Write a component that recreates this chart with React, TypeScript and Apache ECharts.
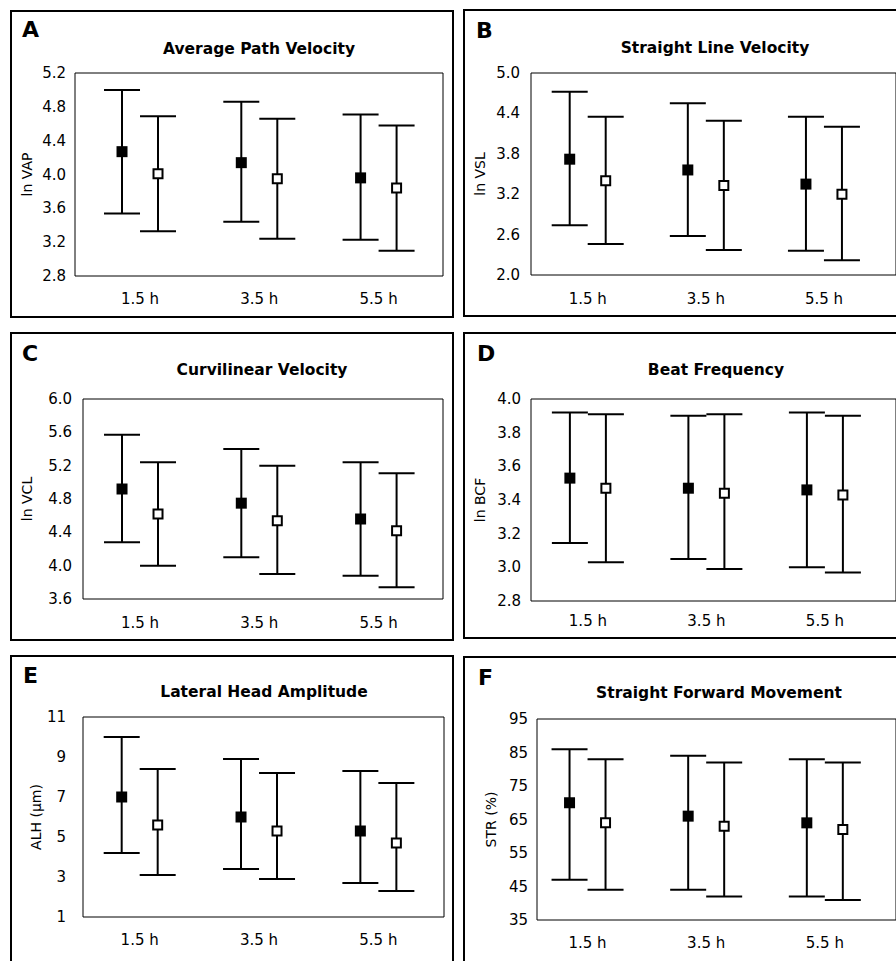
import React, { useEffect, useRef } from "react";
import * as echarts from "echarts";

const FONT = "DejaVu Sans";

const categories = ["1.5 h", "3.5 h", "5.5 h"];

// Panel A – Average Path Velocity (ln VAP)
const vapTicks = [2.8, 3.2, 3.6, 4.0, 4.4, 4.8, 5.2];
const vapFilledMean = [4.27, 4.14, 3.96];
const vapFilledLow = [3.54, 3.44, 3.23];
const vapFilledHigh = [5.0, 4.86, 4.71];
const vapOpenMean = [4.01, 3.95, 3.84];
const vapOpenLow = [3.33, 3.24, 3.1];
const vapOpenHigh = [4.69, 4.66, 4.58];

// Panel B – Straight Line Velocity (ln VSL)
const vslTicks = [2.0, 2.6, 3.2, 3.8, 4.4, 5.0];
const vslFilledMean = [3.72, 3.56, 3.35];
const vslFilledLow = [2.74, 2.58, 2.36];
const vslFilledHigh = [4.72, 4.55, 4.35];
const vslOpenMean = [3.4, 3.33, 3.2];
const vslOpenLow = [2.46, 2.37, 2.22];
const vslOpenHigh = [4.35, 4.29, 4.2];

// Panel C – Curvilinear Velocity (ln VCL)
const vclTicks = [3.6, 4.0, 4.4, 4.8, 5.2, 5.6, 6.0];
const vclFilledMean = [4.92, 4.75, 4.56];
const vclFilledLow = [4.28, 4.1, 3.88];
const vclFilledHigh = [5.57, 5.4, 5.24];
const vclOpenMean = [4.62, 4.54, 4.42];
const vclOpenLow = [4.0, 3.9, 3.74];
const vclOpenHigh = [5.24, 5.2, 5.11];

// Panel D – Beat Frequency (ln BCF)
const bcfTicks = [2.8, 3.0, 3.2, 3.4, 3.6, 3.8, 4.0];
const bcfFilledMean = [3.53, 3.47, 3.46];
const bcfFilledLow = [3.145, 3.05, 3.0];
const bcfFilledHigh = [3.92, 3.9, 3.92];
const bcfOpenMean = [3.47, 3.44, 3.43];
const bcfOpenLow = [3.03, 2.99, 2.97];
const bcfOpenHigh = [3.91, 3.91, 3.9];

// Panel E – Lateral Head Amplitude (ALH, µm)
const alhTicks = [1, 3, 5, 7, 9, 11];
const alhFilledMean = [7.0, 6.0, 5.3];
const alhFilledLow = [4.2, 3.4, 2.7];
const alhFilledHigh = [10.0, 8.9, 8.3];
const alhOpenMean = [5.6, 5.3, 4.7];
const alhOpenLow = [3.1, 2.9, 2.3];
const alhOpenHigh = [8.4, 8.2, 7.7];

// Panel F – Straight Forward Movement (STR, %)
const strTicks = [35, 45, 55, 65, 75, 85, 95];
const strFilledMean = [70, 66, 64];
const strFilledLow = [47, 44, 42];
const strFilledHigh = [86, 84, 83];
const strOpenMean = [64, 63, 62];
const strOpenLow = [44, 42, 41];
const strOpenHigh = [83, 82, 82];

type Panel = {
  letter: string;
  title: string;
  yName: string;
  ticks: number[];
  decimals: number;
  filled: [number[], number[], number[]];
  open: [number[], number[], number[]];
  // layout
  frame: [number, number, number, number];
  grid: [number, number, number, number];
  xMin: number;
  xMax: number;
  labelMargin: number;
  xMargin: number;
  nameGap: number;
  letterPos: [number, number];
  titlePos: [number, number];
};

const panels: Panel[] = [
  {
    letter: "A", title: "Average Path Velocity", yName: "ln VAP", ticks: vapTicks, decimals: 1,
    filled: [vapFilledMean, vapFilledLow, vapFilledHigh], open: [vapOpenMean, vapOpenLow, vapOpenHigh],
    frame: [11, 11, 442, 306], grid: [75, 73, 368, 203], xMin: -0.545, xMax: 2.54,
    labelMargin: 9, xMargin: 15, nameGap: 41, letterPos: [22, 29], titlePos: [259, 49],
  },
  {
    letter: "B", title: "Straight Line Velocity", yName: "ln VSL", ticks: vslTicks, decimals: 1,
    filled: [vslFilledMean, vslFilledLow, vslFilledHigh], open: [vslOpenMean, vslOpenLow, vslOpenHigh],
    frame: [464, 10, 500, 306], grid: [531, 73, 368, 202], xMin: -0.48, xMax: 2.61,
    labelMargin: 11, xMargin: 16, nameGap: 44, letterPos: [476, 30], titlePos: [715, 48],
  },
  {
    letter: "C", title: "Curvilinear Velocity", yName: "ln VCL", ticks: vclTicks, decimals: 1,
    filled: [vclFilledMean, vclFilledLow, vclFilledHigh], open: [vclOpenMean, vclOpenLow, vclOpenHigh],
    frame: [11, 333, 442, 307], grid: [83, 399, 360, 200], xMin: -0.478, xMax: 2.54,
    labelMargin: 11, xMargin: 16, nameGap: 49, letterPos: [22, 353], titlePos: [262, 370],
  },
  {
    letter: "D", title: "Beat Frequency", yName: "ln BCF", ticks: bcfTicks, decimals: 1,
    filled: [bcfFilledMean, bcfFilledLow, bcfFilledHigh], open: [bcfOpenMean, bcfOpenLow, bcfOpenHigh],
    frame: [464, 333, 500, 305], grid: [531, 399, 368, 202], xMin: -0.48, xMax: 2.6,
    labelMargin: 10, xMargin: 12, nameGap: 44, letterPos: [477, 353], titlePos: [716, 370],
  },
  {
    letter: "E", title: "Lateral Head Amplitude", yName: "ALH (\u00b5m)", ticks: alhTicks, decimals: 0,
    filled: [alhFilledMean, alhFilledLow, alhFilledHigh], open: [alhOpenMean, alhOpenLow, alhOpenHigh],
    frame: [11, 656, 442, 400], grid: [83, 717, 361, 200], xMin: -0.475, xMax: 2.55,
    labelMargin: 17, xMargin: 15, nameGap: 38, letterPos: [23, 675], titlePos: [264, 692],
  },
  {
    letter: "F", title: "Straight Forward Movement", yName: "STR (%)", ticks: strTicks, decimals: 0,
    filled: [strFilledMean, strFilledLow, strFilledHigh], open: [strOpenMean, strOpenLow, strOpenHigh],
    frame: [464, 657, 500, 400], grid: [537, 719, 362, 201], xMin: -0.426, xMax: 2.6,
    labelMargin: 9, xMargin: 15, nameGap: 39, letterPos: [478, 677], titlePos: [719, 693],
  },
];

const CAP = 18;
const OFFSET = 18;

function makeSeries(k: number, arrs: [number[], number[], number[]], filled: boolean) {
  const [mean, low, high] = arrs;
  return {
    type: "custom",
    xAxisIndex: k,
    yAxisIndex: k,
    clip: false,
    data: categories.map((_, i) => [i, mean[i], low[i], high[i]]),
    renderItem: (params: any, api: any) => {
      const i = api.value(0);
      const m = api.coord([i, api.value(1)]);
      const lo = api.coord([i, api.value(2)]);
      const hi = api.coord([i, api.value(3)]);
      const cx = m[0] + (filled ? -OFFSET : OFFSET);
      const lineStyle = { stroke: "#000", lineWidth: 2 };
      const sq = filled
        ? { type: "rect", shape: { x: cx - 5.5, y: m[1] - 5.5, width: 11, height: 11 }, style: { fill: "#000" } }
        : { type: "rect", shape: { x: cx - 4.5, y: m[1] - 4.5, width: 9, height: 9 }, style: { fill: "#fff", stroke: "#000", lineWidth: 2 } };
      return {
        type: "group",
        children: [
          { type: "line", shape: { x1: cx, y1: hi[1], x2: cx, y2: lo[1] }, style: lineStyle },
          { type: "line", shape: { x1: cx - CAP, y1: hi[1], x2: cx + CAP, y2: hi[1] }, style: lineStyle },
          { type: "line", shape: { x1: cx - CAP, y1: lo[1], x2: cx + CAP, y2: lo[1] }, style: lineStyle },
          sq,
        ],
      };
    },
  };
}

export default function App() {
  const ref = useRef<HTMLDivElement>(null);
  useEffect(() => {
    if (!ref.current) return;
    const chart = echarts.init(ref.current, undefined, { renderer: "svg" });
    const option: any = {
      animation: false,
      backgroundColor: "#fff",
      textStyle: { fontFamily: FONT, color: "#000" },
      grid: panels.map((p) => ({
        left: p.grid[0], top: p.grid[1], width: p.grid[2], height: p.grid[3],
        show: true, borderColor: "#000", borderWidth: 1, backgroundColor: "transparent",
        containLabel: false,
      })),
      xAxis: panels.map((p, k) => ({
        type: "value", gridIndex: k, min: p.xMin, max: p.xMax,
        axisLine: { show: false }, axisTick: { show: false }, splitLine: { show: false },
        axisLabel: {
          customValues: categories.map((_, i) => i),
          formatter: (v: number) => categories[Math.round(v)] ?? "",
          color: "#000", fontSize: 15, fontFamily: FONT, margin: p.xMargin,
        },
      })),
      yAxis: panels.map((p, k) => ({
        type: "value", gridIndex: k, min: p.ticks[0], max: p.ticks[p.ticks.length - 1],
        name: p.yName, nameLocation: "middle", nameRotate: 90, nameGap: p.nameGap,
        nameTextStyle: { color: "#000", fontSize: 14, fontFamily: FONT },
        axisLine: { show: false }, axisTick: { show: false }, splitLine: { show: false },
        axisLabel: {
          customValues: p.ticks,
          formatter: (v: number) => v.toFixed(p.decimals),
          color: "#000", fontSize: 15, fontFamily: FONT, margin: p.labelMargin,
        },
      })),
      series: panels.flatMap((p, k) => [makeSeries(k, p.filled, true), makeSeries(k, p.open, false)]),
      graphic: [
        ...panels.map((p) => ({
          type: "rect", silent: true,
          shape: { x: p.frame[0], y: p.frame[1], width: p.frame[2], height: p.frame[3] },
          style: { fill: "none", stroke: "#000", lineWidth: 2 },
        })),
        ...panels.map((p) => ({
          type: "text", x: p.letterPos[0], y: p.letterPos[1],
          style: { text: p.letter, font: `bold 22px "${FONT}"`, fill: "#000", textAlign: "left", textVerticalAlign: "middle" },
        })),
        ...panels.map((p) => ({
          type: "text", x: p.titlePos[0], y: p.titlePos[1],
          style: { text: p.title, font: `bold 15.5px "${FONT}"`, fill: "#000", textAlign: "center", textVerticalAlign: "middle" },
        })),
      ],
    };
    chart.setOption(option);
    return () => chart.dispose();
  }, []);
  return (
    <div
      ref={ref}
      style={{ position: "absolute", left: 0, top: 0, width: 896, height: 961, background: "#fff", overflow: "hidden" }}
    />
  );
}
